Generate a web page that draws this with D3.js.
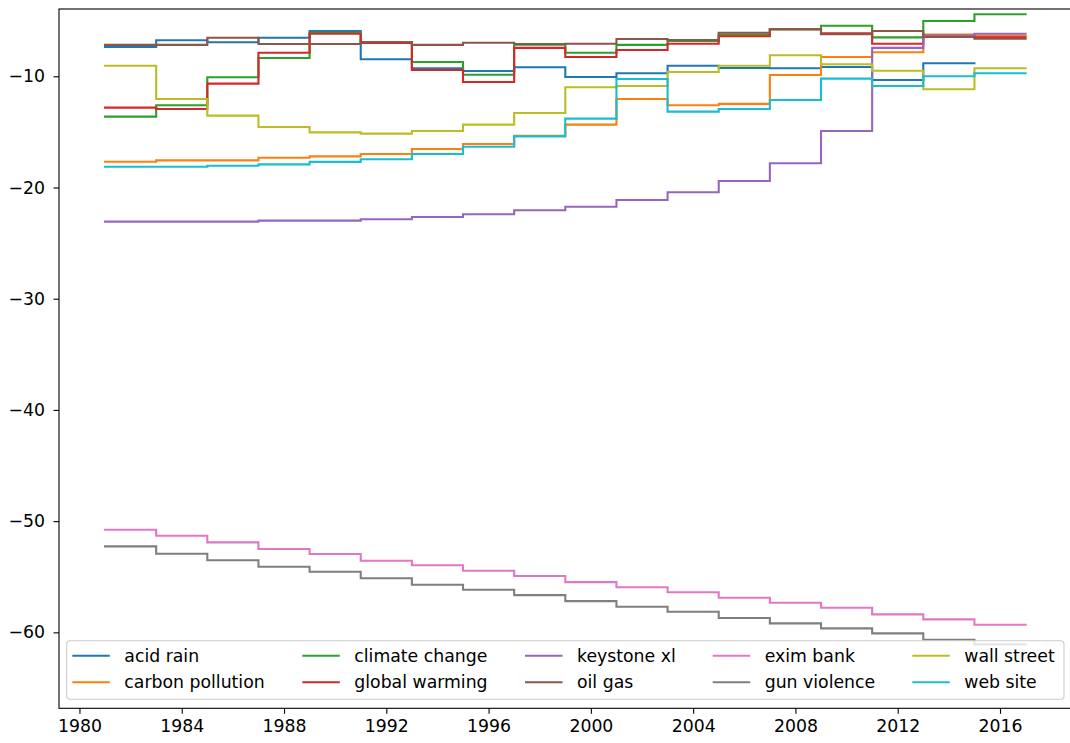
<!DOCTYPE html>
<html>
<head>
<meta charset="utf-8">
<script src="https://cdn.jsdelivr.net/npm/d3@7"></script>
<style>
  html, body { margin: 0; padding: 0; background: #fff; }
  svg { display: block; font-family: "DejaVu Sans", sans-serif; }
</style>
</head>
<body>
<svg id="chart" width="1070" height="743"></svg>
<script>
// ---- Data (segment start years; each value holds for two years) ----
const years = [1981, 1983, 1985, 1987, 1989, 1991, 1993, 1995, 1997, 1999,
               2001, 2003, 2005, 2007, 2009, 2011, 2013, 2015];
const stepLength = 2;

const acidRain = [-7.37, -6.76, -6.94, -6.53, -5.93, -8.47, -9.28, -9.52, -9.19, -10.06,
                  -9.73, -9.05, -9.25, -9.28, -9.16, -10.33, -8.83, null];
const carbonPollution = [-17.68, -17.56, -17.56, -17.32, -17.2, -16.99, -16.54, -16.09, -15.35, -14.35,
                         -12.04, -12.61, -12.48, -9.88, -8.26, -7.84, -6.25, -6.35];
const climateChange = [-13.63, -12.61, -10.09, -8.35, -6.1, -6.97, -8.71, -9.86, -7.16, -7.88,
                       -7.18, -6.83, -6.25, -5.8, -5.45, -6.5, -5.03, -4.42];
const globalWarming = [-12.82, -12.94, -10.66, -7.88, -6.17, -7.0, -9.43, -10.51, -7.45, -8.26,
                       -7.63, -7.07, -6.4, -5.77, -6.13, -7.07, -6.35, -6.5];
const keystoneXl = [-23.07, -23.07, -23.07, -22.98, -22.98, -22.86, -22.65, -22.41, -22.05, -21.73,
                    -21.12, -20.43, -19.42, -17.82, -14.92, -7.45, -6.35, -6.17];
const oilGas = [-7.18, -7.18, -6.53, -7.1, -7.1, -6.92, -7.18, -6.98, -7.1, -7.07,
                -6.65, -6.74, -6.08, -5.75, -6.22, -5.93, -6.47, -6.62];
const eximBank = [-50.77, -51.31, -51.91, -52.51, -52.96, -53.56, -53.97, -54.46, -54.94, -55.48,
                  -55.95, -56.4, -56.89, -57.34, -57.79, -58.38, -58.83, -59.32];
const gunViolence = [-52.27, -52.93, -53.52, -54.1, -54.55, -55.14, -55.72, -56.17, -56.65, -57.19,
                     -57.7, -58.15, -58.71, -59.19, -59.64, -60.09, -60.66, -61.08];
const wallStreet = [-9.05, -12.04, -13.54, -14.56, -15.04, -15.16, -14.92, -14.35, -13.3, -10.99,
                    -10.87, -9.61, -9.05, -8.11, -8.92, -9.5, -11.17, -9.28];
const webSite = [-18.13, -18.13, -18.04, -17.92, -17.7, -17.46, -16.99, -16.33, -15.4, -13.81,
                 -10.24, -13.18, -12.94, -12.13, -10.21, -10.87, -10.0, -9.73];

const seriesNames = ["acid rain", "carbon pollution", "climate change", "global warming", "keystone xl",
                     "oil gas", "exim bank", "gun violence", "wall street", "web site"];
const seriesValues = [acidRain, carbonPollution, climateChange, globalWarming, keystoneXl,
                      oilGas, eximBank, gunViolence, wallStreet, webSite];
const colors = ["#1f77b4", "#ff7f0e", "#2ca02c", "#d62728", "#9467bd",
                "#8c564b", "#e377c2", "#7f7f7f", "#bcbd22", "#17becf"];

const xTicks = [1980, 1984, 1988, 1992, 1996, 2000, 2004, 2008, 2012, 2016];
const yTicks = [-60, -50, -40, -30, -20, -10];

// ---- Layout ----
const plot = { left: 59, right: 1071.6, top: 9, bottom: 708.3 };
const xDomain = [1979.2, 2018.8];
const yDomain = [-66.83, -3.95];
const fontSize = 17.3;

const svg = d3.select("#chart");
const x = d3.scaleLinear().domain(xDomain).range([plot.left, plot.right]);
const y = d3.scaleLinear().domain(yDomain).range([plot.bottom, plot.top]);

// clip
svg.append("defs").append("clipPath").attr("id", "clip")
  .append("rect").attr("x", plot.left).attr("y", plot.top)
  .attr("width", plot.right - plot.left).attr("height", plot.bottom - plot.top);

// ---- Lines ----
const line = d3.line()
  .x(d => x(d[0]))
  .y(d => y(d[1]))
  .curve(d3.curveStepAfter);

const linesG = svg.append("g").attr("clip-path", "url(#clip)");
seriesValues.forEach((vals, i) => {
  const pts = [];
  vals.forEach((v, j) => { if (v !== null) pts.push([years[j], v]); });
  const lastIdx = vals.reduce((acc, v, j) => (v !== null ? j : acc), -1);
  pts.push([years[lastIdx] + stepLength, vals[lastIdx]]);
  linesG.append("path")
    .datum(pts)
    .attr("fill", "none")
    .attr("stroke", colors[i])
    .attr("stroke-width", 2.1)
    .attr("stroke-linejoin", "miter")
    .attr("stroke-linecap", "square")
    .attr("d", line);
});

// ---- Axes ----
const xAxis = d3.axisBottom(x).tickValues(xTicks).tickFormat(d3.format("d"))
  .tickSize(5.5).tickPadding(6);
const yAxis = d3.axisLeft(y).tickValues(yTicks).tickFormat(d => d3.format("d")(d).replace("-", "\u2212"))
  .tickSize(5.5).tickPadding(8.5);

const gx = svg.append("g").attr("transform", `translate(0,${plot.bottom})`).call(xAxis);
const gy = svg.append("g").attr("transform", `translate(${plot.left},0)`).call(yAxis);
[gx, gy].forEach(g => {
  g.select(".domain").remove();
  g.selectAll(".tick line").attr("stroke", "#000").attr("stroke-width", 1.1);
  g.selectAll(".tick text").attr("fill", "#000")
    .style("font-size", fontSize + "px").style("font-family", "DejaVu Sans, sans-serif");
});

// frame
svg.append("rect")
  .attr("x", plot.left).attr("y", plot.top)
  .attr("width", plot.right - plot.left).attr("height", plot.bottom - plot.top)
  .attr("fill", "none").attr("stroke", "#000").attr("stroke-width", 1.1);

// ---- Legend ----
const legendBox = { x: 66.7, y: 640.7, w: 997.3, h: 58.6 };
const legendCols = [72.3, 302.3, 525, 712.7, 912.3];
const legendRows = [655.7, 682.3];
const handleLen = 37.5, textGap = 14.5;

const lg = svg.append("g");
lg.append("rect")
  .attr("x", legendBox.x).attr("y", legendBox.y)
  .attr("width", legendBox.w).attr("height", legendBox.h)
  .attr("rx", 3.5).attr("ry", 3.5)
  .attr("fill", "#fff").attr("fill-opacity", 0.8)
  .attr("stroke", "#cccccc").attr("stroke-width", 1.1);

seriesNames.forEach((name, i) => {
  const col = Math.floor(i / 2), row = i % 2;
  const hx = legendCols[col], cy = legendRows[row];
  lg.append("line")
    .attr("x1", hx).attr("x2", hx + handleLen)
    .attr("y1", cy).attr("y2", cy)
    .attr("stroke", colors[i]).attr("stroke-width", 2.1);
  lg.append("text")
    .attr("x", hx + handleLen + textGap).attr("y", cy)
    .attr("dy", "0.35em")
    .attr("fill", "#000")
    .style("font-size", fontSize + "px")
    .text(name);
});
</script>
</body>
</html>
